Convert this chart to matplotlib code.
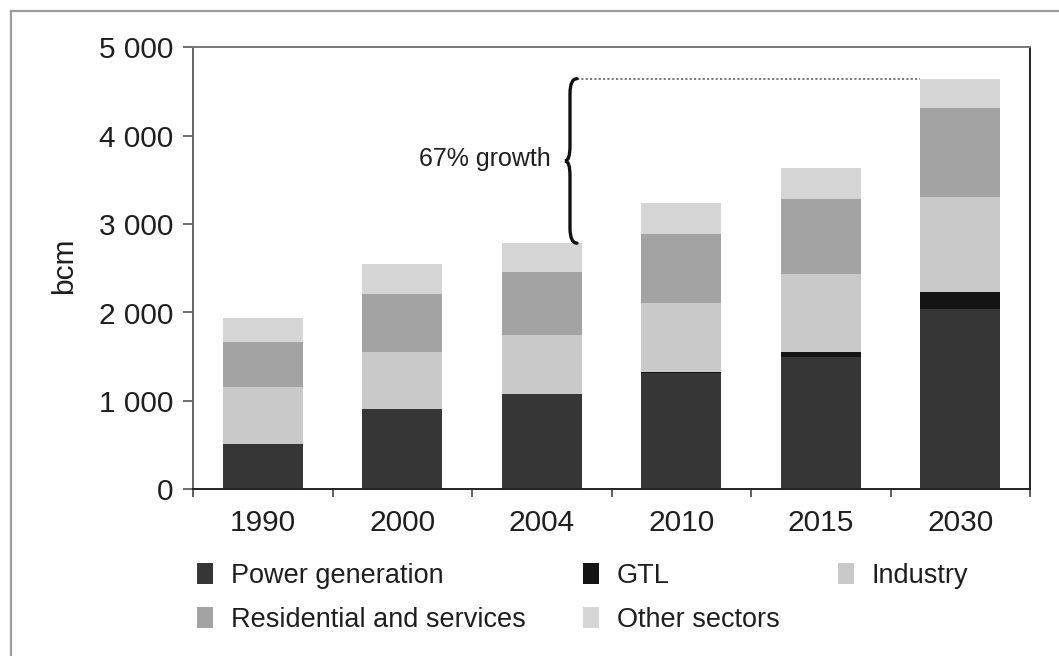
import matplotlib
matplotlib.use("Agg")
import matplotlib.pyplot as plt
import numpy as np
from matplotlib.patches import Rectangle, PathPatch
from matplotlib.path import Path
from matplotlib.lines import Line2D
from matplotlib.ticker import FixedLocator, FuncFormatter, NullFormatter

# World natural gas demand by sector (bcm)
years = ["1990", "2000", "2004", "2010", "2015", "2030"]
power = [510, 905, 1075, 1315, 1493, 2040]
gtl = [0, 0, 0, 12, 57, 189]
industry = [645, 650, 670, 777, 889, 1074]
residential = [510, 650, 715, 784, 845, 1007]
other = [270, 340, 325, 354, 354, 335]

series_names = ["Power generation", "GTL", "Industry",
                "Residential and services", "Other sectors"]
series_values = [power, gtl, industry, residential, other]
series_colors = ["#363636", "#141414", "#c9c9c9", "#a3a3a3", "#d5d5d5"]

growth_label = "67% growth"

W, H = 1059, 656
fig = plt.figure(figsize=(W / 100, H / 100), dpi=100)
fig.patch.set_facecolor("white")

# outer frame (open on right/bottom)
fig.add_artist(Line2D([10.5 / W, 10.5 / W], [0, 1 - 10.5 / H], transform=fig.transFigure,
                      color="#9c9c9c", lw=1.6))
fig.add_artist(Line2D([10.5 / W, 1], [1 - 10.5 / H, 1 - 10.5 / H], transform=fig.transFigure,
                      color="#9c9c9c", lw=1.6))

ax_left, ax_right, ax_top, ax_bottom = 193, 1030, 47.3, 489.3
ax = fig.add_axes([ax_left / W, 1 - ax_bottom / H, (ax_right - ax_left) / W,
                   (ax_bottom - ax_top) / H])

x = np.arange(len(years))
width = 0.573
bottom = np.zeros(len(years))
for vals, col in zip(series_values, series_colors):
    v = np.array(vals, dtype=float)
    ax.bar(x, v, width, bottom=bottom, color=col, edgecolor="none", zorder=2)
    bottom += v
totals = bottom

ax.set_xlim(-0.5, len(years) - 0.5)
ax.set_ylim(0, 5000)

tick_font = "Liberation Sans"
txt_col = "#1e1e1e"

ax.yaxis.set_major_locator(FixedLocator([0, 1000, 2000, 3000, 4000, 5000]))
ax.yaxis.set_major_formatter(FuncFormatter(lambda v, p: f"{int(v):,}".replace(",", " ")))
ax.tick_params(axis="y", direction="out", length=7, width=1.2, color="#555555",
               pad=7, labelsize=21.5, labelcolor=txt_col)

ax.xaxis.set_major_locator(FixedLocator(x))
ax.set_xticklabels(years)
ax.xaxis.set_minor_locator(FixedLocator(np.arange(-0.5, len(years), 1.0)))
ax.xaxis.set_minor_formatter(NullFormatter())
ax.tick_params(axis="x", which="major", length=0, pad=14, labelsize=21.5, labelcolor=txt_col)
ax.tick_params(axis="x", which="minor", direction="out", length=6, width=1.2, color="#444444")
for lab in ax.get_xticklabels() + ax.get_yticklabels():
    lab.set_fontfamily(tick_font)

ax.set_ylabel("bcm", fontsize=21.5, fontfamily=tick_font, color=txt_col)
ax.yaxis.set_label_coords(-0.137, 0.505)

for side, col in [("left", "#666666"), ("top", "#777777"), ("right", "#222222"),
                  ("bottom", "#222222")]:
    ax.spines[side].set_color(col)
    ax.spines[side].set_linewidth(1.4)

# growth brace between 2004 and 2030 totals
y0, y1 = totals[2], totals[5]
ym = (y0 + y1) / 2
xs, xt, xe = 2.2025, 2.167, 2.2527
h = 170
verts = [(xe, y1), (xs, y1), (xs, y1 - h),
         (xs, ym + h),
         (xs, ym), (xt, ym),
         (xs, ym), (xs, ym - h),
         (xs, y0 + h),
         (xs, y0), (xe, y0)]
codes = [Path.MOVETO, Path.CURVE3, Path.CURVE3,
         Path.LINETO,
         Path.CURVE3, Path.CURVE3,
         Path.CURVE3, Path.CURVE3,
         Path.LINETO,
         Path.CURVE3, Path.CURVE3]
ax.add_patch(PathPatch(Path(verts, codes), facecolor="none", edgecolor="#111111",
                       lw=2.4, zorder=4, capstyle="round"))
ax.plot([xe, 5 - width / 2], [y1, y1], color="#707070", lw=1.3,
        linestyle=(0, (1.2, 1.2)), zorder=3)
ax.text(xt - 0.1, ym + 20, growth_label, ha="right", va="center", fontsize=18,
        fontfamily=tick_font, color=txt_col)

# legend
leg_pos = [(197, 573), (583, 573), (838, 573), (197, 617), (583, 617)]
pw, ph = 16, 21
for name, col, (px, py) in zip(series_names, series_colors, leg_pos):
    fig.add_artist(Rectangle((px / W, 1 - (py + ph / 2) / H), pw / W, ph / H,
                             transform=fig.transFigure, facecolor=col, edgecolor="none"))
    fig.text((px + 34) / W, 1 - py / H, name, ha="left", va="center_baseline",
             fontsize=19.5, fontfamily=tick_font, color=txt_col)

fig.savefig("out.png", dpi=100)
